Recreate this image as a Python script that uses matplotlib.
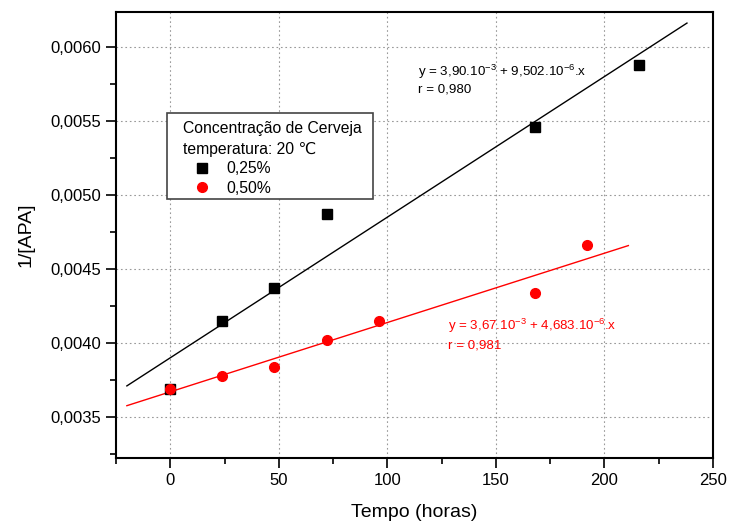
import matplotlib
matplotlib.use('Agg')
import matplotlib.pyplot as plt
from matplotlib.patches import Rectangle
from matplotlib.ticker import FuncFormatter, MultipleLocator
import numpy as np

plt.rcParams['font.family'] = ['Liberation Sans', 'DejaVu Sans']
plt.rcParams['mathtext.fontset'] = 'custom'
plt.rcParams['mathtext.rm'] = 'Liberation Sans'
plt.rcParams['mathtext.default'] = 'regular'

# data
t_025 = [0, 24, 48, 72, 168, 216]
y_025 = [0.00369, 0.00415, 0.00437, 0.00487, 0.00546, 0.00588]
t_050 = [0, 24, 48, 72, 96, 168, 192]
y_050 = [0.00369, 0.00378, 0.00384, 0.00402, 0.00415, 0.00434, 0.00466]

# linear fits as printed on the chart
fit_025 = (3.90e-3, 9.502e-6)
fit_050 = (3.67e-3, 4.683e-6)
fit_range_025 = (-20, 238)
fit_range_050 = (-20, 211)

fig = plt.figure(figsize=(7.31, 5.24), dpi=100)
ax = fig.add_axes([0.1587, 0.126, 0.8167, 0.851])

# fitted lines
xf = np.array(fit_range_025)
ax.plot(xf, fit_025[0] + fit_025[1] * xf, color='black', lw=1.0, zorder=2)
xf = np.array(fit_range_050)
ax.plot(xf, fit_050[0] + fit_050[1] * xf, color='red', lw=1.0, zorder=2)

ax.plot(t_025, y_025, 's', color='black', ms=6.5, label='0,25%', zorder=3)
ax.plot(t_050, y_050, 'o', color='red', ms=7, label='0,50%', zorder=3)

ax.set_xlim(-25, 250)
ax.set_ylim(0.003223, 0.006236)
ax.xaxis.set_major_locator(MultipleLocator(50))
ax.xaxis.set_minor_locator(MultipleLocator(25))
ax.yaxis.set_major_locator(MultipleLocator(0.0005))
ax.yaxis.set_minor_locator(MultipleLocator(0.00025))
ax.yaxis.set_major_formatter(FuncFormatter(lambda v, p: f'{v:.4f}'.replace('.', ',')))

ax.tick_params(which='both', direction='out', top=False, right=False, labelsize=12)
ax.tick_params(which='major', length=7, width=1.2)
ax.tick_params(which='minor', length=4, width=1.2)
for s in ax.spines.values():
    s.set_linewidth(1.5)

ax.grid(True, which='major', linestyle=(0, (1.5, 2.5)), color='#999999', lw=0.8)
ax.set_axisbelow(True)

ax.set_xlabel('Tempo (horas)', fontsize=14, labelpad=12)
ax.set_ylabel('1/[APA]', fontsize=14, labelpad=12)

# legend box drawn by hand so the padding matches
ax.add_patch(Rectangle((0.0854, 0.5807), 0.3451, 0.1928, transform=ax.transAxes,
                       facecolor='white', edgecolor='#444444', lw=1.2, zorder=4))
leg = ax.legend(title='Concentração de Cerveja\ntemperatura: 20 \u2103',
                loc='upper left', bbox_to_anchor=(0.112, 0.756),
                borderaxespad=0, borderpad=0, fontsize=11.3, title_fontsize=11.3,
                frameon=False, handlelength=2.4, handletextpad=0.4,
                labelspacing=0.3, alignment='left')
leg.get_title().set_linespacing(1.5)
leg.set_zorder(5)
leg._legend_box.sep = 3

ax.text(114, 0.005831, 'y = 3,90.10$^{-3}$ + 9,502.10$^{-6}$.x', fontsize=9.6, va='center')
ax.text(114, 0.005712, 'r = 0,980', fontsize=9.6, va='center')
ax.text(128, 0.004115, 'y = 3,67.10$^{-3}$ + 4,683.10$^{-6}$.x', fontsize=9.6,
        va='center', color='red')
ax.text(128, 0.003986, 'r = 0,981', fontsize=9.6, va='center', color='red')

fig.savefig('out.png', dpi=100)
